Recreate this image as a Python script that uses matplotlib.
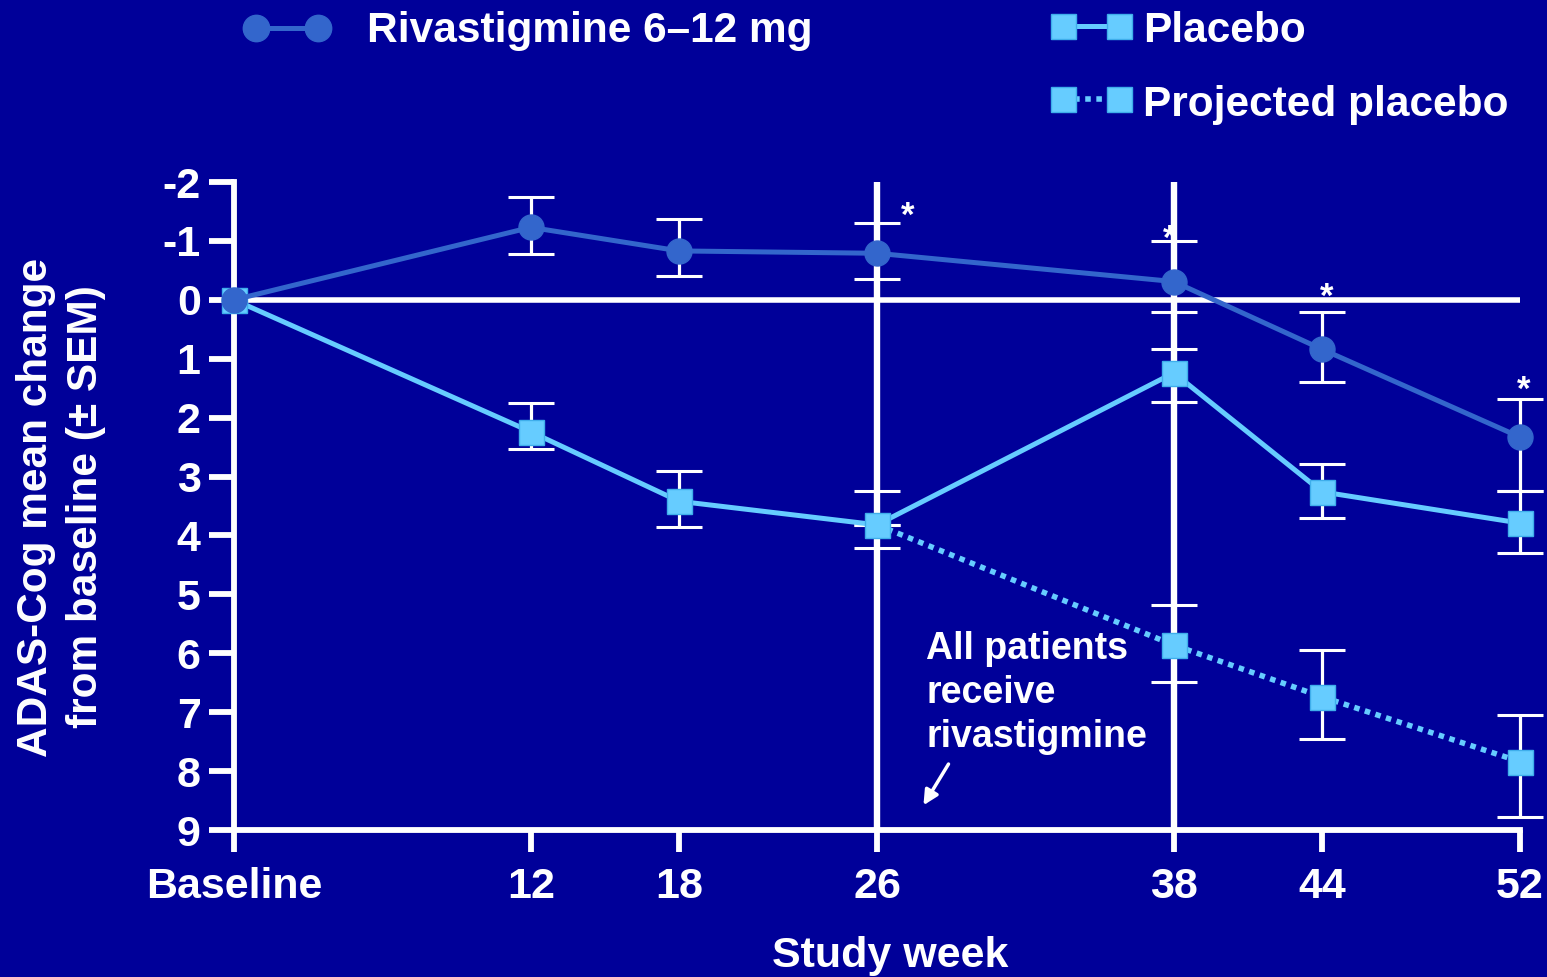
import matplotlib
matplotlib.use("Agg")
import matplotlib.pyplot as plt
from matplotlib.lines import Line2D

plt.rcParams['font.family'] = ['Liberation Sans', 'DejaVu Sans']
plt.rcParams['font.weight'] = 'bold'

# ---------------- data ----------------
weeks = [0, 12, 18, 26, 38, 44, 52]
tick_labels = ["Baseline", "12", "18", "26", "38", "44", "52"]

# error lengths: "up" = towards the top of the (inverted) axis, "down" = towards the bottom
riva_mean = [0.0, -1.23, -0.83, -0.79, -0.31, 0.84, 2.33]
riva_err_down = [0.0, 0.45, 0.42, 0.44, 0.51, 0.55, 0.92]
riva_err_up = [0.0, 0.51, 0.54, 0.51, 0.68, 0.64, 0.65]

placebo_mean = [0.0, 2.24, 3.42, 3.82, 1.24, 3.26, 3.79]
placebo_err_down = [0.0, 0.30, 0.44, 0.39, 0.49, 0.44, 0.51]
placebo_err_up = [0.0, 0.48, 0.51, 0.57, 0.41, 0.48, 0.54]

proj_weeks = [26, 38, 44, 52]
proj_mean = [3.82, 5.86, 6.74, 7.84]
proj_err_down = [0.0, 0.63, 0.72, 0.94]
proj_err_up = [0.0, 0.68, 0.80, 0.79]

star_weeks = [27.25, 37.85, 44.2, 52.15]
star_y = [-1.41, -1.03, -0.05, 1.53]

yticks = list(range(-2, 10))
ytick_labels = [str(v) for v in yticks]

legend_riva = "Rivastigmine 6\u201312 mg"
legend_placebo = "Placebo"
legend_proj = "Projected placebo"
ylabel = "ADAS-Cog mean change\nfrom baseline (\u00b1 SEM)"
xlabel = "Study week"
note = "All patients\nreceive\nrivastigmine"

# ---------------- style ----------------
BG = "#000099"
RIVA = "#3366CC"
PLAC = "#66CCFF"
PLAC_EDGE = "#3FAEEB"
W, H = 1547, 977

fig = plt.figure(figsize=(W / 100, H / 100), dpi=100, facecolor=BG)
ax = fig.add_axes([234 / W, 147 / H, 1286 / W, 648 / H])
ax.set_facecolor(BG)
ax.set_xlim(0, 52)
ax.set_ylim(9, -2)

for s in ["top", "right"]:
    ax.spines[s].set_visible(False)
for s in ["left", "bottom"]:
    ax.spines[s].set_color("white")
    ax.spines[s].set_linewidth(4.2)
    ax.spines[s].set_zorder(1)

ax.set_xticks(weeks)
ax.set_xticklabels(tick_labels)
ax.set_yticks(yticks)
ax.set_yticklabels(ytick_labels)
ax.tick_params(axis="both", colors="white", direction="out", length=18, width=4.2,
               labelsize=31)
ax.tick_params(axis="y", pad=6)
ax.tick_params(axis="x", pad=11, length=16)

# reference lines
ax.axhline(0, color="white", lw=4, zorder=1)
ax.axvline(26, color="white", lw=4.6, zorder=1)
ax.axvline(38, color="white", lw=4.6, zorder=1)

ekw = dict(ecolor="white", elinewidth=2.3, capsize=16.5, capthick=2.2, ls="none",
           zorder=2)
# inverted axis: subtracting moves a value towards the top
for xs, m, up, down in [(weeks, riva_mean, riva_err_up, riva_err_down),
                        (weeks, placebo_mean, placebo_err_up, placebo_err_down),
                        (proj_weeks, proj_mean, proj_err_up, proj_err_down)]:
    eb = ax.errorbar(xs, m, yerr=[up, down], **ekw)
    for art in eb.lines[1] + eb.lines[2]:
        art.set_clip_on(False)

ax.plot(proj_weeks, proj_mean, color=PLAC, lw=4, ls=(0, (1, 1)),
        dash_capstyle="butt", zorder=3, clip_on=False)
ax.plot(proj_weeks[1:], proj_mean[1:], ls="none", marker="s", ms=18, mfc=PLAC,
        mec=PLAC_EDGE, mew=1, zorder=4, clip_on=False)
ax.plot(weeks, placebo_mean, color=PLAC, lw=3.6, marker="s", ms=18, mfc=PLAC,
        mec=PLAC_EDGE, mew=1, zorder=4, clip_on=False)
ax.plot(weeks, riva_mean, color=RIVA, lw=3.6, marker="o", ms=18, mfc=RIVA,
        mec=RIVA, zorder=5, clip_on=False)

for xs, ys in zip(star_weeks, star_y):
    ax.text(xs, ys, "*", color="white", fontsize=25, ha="center", va="center",
            zorder=6, clip_on=False)

ax.text(28.0, 5.62, note, color="white", fontsize=27, ha="left", va="top",
        linespacing=1.28)
ax.annotate("", xy=(27.82, 8.62), xytext=(28.95, 7.84),
            arrowprops=dict(arrowstyle="-|>", color="white", lw=2.5,
                            mutation_scale=22))

# axis labels
fig.text(61 / W, 1 - 507 / H, ylabel, color="white", fontsize=30.5, rotation=90,
         ha="center", va="center", multialignment="center", linespacing=1.3)
fig.text(890 / W, 1 - 956 / H, xlabel, color="white", fontsize=31, ha="center",
         va="center")

# legend (manual)
def fx(px):
    return px / W

def fy(py):
    return 1 - py / H

fig.add_artist(Line2D([fx(256), fx(318)], [fy(28), fy(28)], color=RIVA, lw=3.6,
                      marker="o", ms=19, mfc=RIVA, mec=RIVA))
fig.text(fx(367), fy(42), legend_riva, color="white", fontsize=30.5, ha="left",
         va="baseline")
fig.add_artist(Line2D([fx(1063), fx(1119)], [fy(26), fy(26)], color=PLAC, lw=3.6,
                      marker="s", ms=18, mfc=PLAC, mec=PLAC_EDGE, mew=1))
fig.text(fx(1143), fy(42), legend_placebo, color="white", fontsize=30.5, ha="left",
         va="baseline")
fig.add_artist(Line2D([fx(1063), fx(1119)], [fy(99), fy(99)], color=PLAC, lw=4,
                      ls=(0, (1, 1)), dash_capstyle="butt"))
fig.add_artist(Line2D([fx(1063), fx(1119)], [fy(99), fy(99)], ls="none",
                      marker="s", ms=18, mfc=PLAC, mec=PLAC_EDGE, mew=1))
fig.text(fx(1143), fy(116), legend_proj, color="white", fontsize=30.5, ha="left",
         va="baseline")

fig.savefig("out.png", dpi=100, facecolor=BG)
